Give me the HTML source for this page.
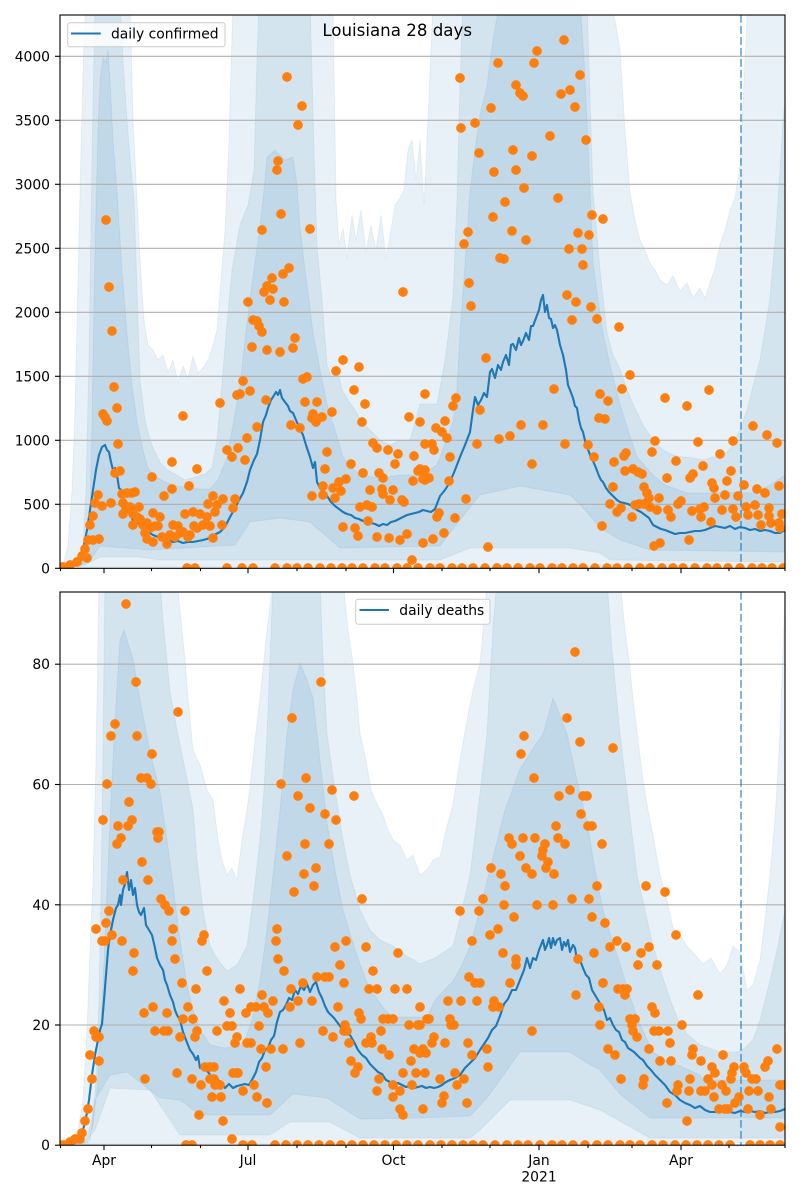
<!DOCTYPE html>
<html><head><meta charset="utf-8"><style>
html,body{margin:0;padding:0;background:#fff;}
svg{display:block;}
text{font-family:"DejaVu Sans","Liberation Sans",sans-serif;fill:#000;}
</style></head><body>
<svg width="800" height="1200" viewBox="0 0 800 1200" xmlns="http://www.w3.org/2000/svg">
<defs>
<clipPath id="ct"><rect x="60" y="15" width="725" height="553.3"/></clipPath>
<clipPath id="cb"><rect x="60" y="592" width="725" height="553.2"/></clipPath>
</defs>
<rect width="800" height="1200" fill="#fff"/>

<!-- TOP PANEL -->
<g clip-path="url(#ct)">
<g fill="#1f77b4" fill-opacity="0.1" stroke="#1f77b4" stroke-opacity="0.08" stroke-width="1">
<polygon points="60,568 64,562 68,545 72,490 75,410 78,280 81,150 84,40 86,0 130,0 133,120 137,200 140,260 144,320 148,345 153,350 158,360 163,355 168,372 173,360 178,382 183,366 188,378 193,356 198,373 203,368 208,360 213,345 217,330 221,280 225,230 229,140 233,0 333,0 336,200 339,245 343,228 347,258 352,215 356,240 361,210 366,252 371,225 376,250 381,215 386,258 391,230 395,205 400,198 404,190 408,150 412,140 416,180 420,140 424,205 428,120 433,0 610,0 615,20 620,50 625,130 630,192 635,220 640,240 645,250 650,263 655,270 660,280 667,285 673,276 680,291 687,283 693,298 700,288 705,298 710,283 715,268 720,245 725,230 730,210 735,198 740,165 745,60 748,0 785,0 785,567 60,567"/>
<polygon points="60,568 70,566 78,561 83,545 86,490 89,360 92,160 95,0 120,0 123,60 127,120 131,170 134,200 137,290 140,380 145,420 150,440 155,452 160,462 167,470 175,474 185,480 195,477 205,474 212,468 217,440 221,395 226,335 232,270 240,225 248,205 254,170 257,60 259,0 310,0 314,150 317,245 322,300 327,365 332,378 337,368 342,390 348,400 355,410 362,422 370,430 380,440 390,445 400,440 410,440 420,404 430,404 437,404 445,360 453,298 457,200 460,86 463,0 587,0 590,100 593,192 600,270 607,333 613,355 620,369 627,390 633,404 643,425 653,440 663,450 673,455 683,457 693,458 703,460 713,457 720,457 727,452 733,445 740,430 747,410 753,386 760,360 765,330 770,298 776,230 780,170 783,121 785,100 785,562 610,560 600,553 570,548 470,548 440,560 160,560 140,557 100,557 85,565 60,568"/>
<polygon points="60,568 80,565 86,555 90,520 92,420 95,250 98,130 100,80 103,57 106,62 108,50 110,80 113,140 117,192 122,270 127,333 132,385 137,422 143,450 148,468 153,475 165,482 177,486 190,488 200,489 210,489 218,480 227,457 233,425 240,386 245,340 250,298 255,262 260,227 264,190 267,157 275,150 285,160 293,157 297,185 300,227 305,270 309,300 313,333 320,370 327,404 335,430 343,457 352,468 360,475 380,478 400,475 420,475 437,465 453,422 457,390 460,333 465,265 470,192 475,150 480,115 487,86 493,40 500,0 580,0 584,60 587,121 590,190 593,263 598,300 603,333 610,365 620,404 628,430 637,457 645,466 653,475 665,485 687,493 710,493 730,492 753,493 770,485 785,475 785,552 650,550 620,540 600,528 585,510 570,495 520,486 480,495 460,520 440,546 340,548 310,522 280,518 250,522 235,545 150,550 100,546 90,560 80,566 60,568"/>
</g>
<g stroke="#b0b0b0" stroke-width="1.1">
<line x1="60" x2="785" y1="56.3" y2="56.3"/><line x1="60" x2="785" y1="120.3" y2="120.3"/><line x1="60" x2="785" y1="184.3" y2="184.3"/><line x1="60" x2="785" y1="248.3" y2="248.3"/><line x1="60" x2="785" y1="312.3" y2="312.3"/><line x1="60" x2="785" y1="376.3" y2="376.3"/><line x1="60" x2="785" y1="440.3" y2="440.3"/><line x1="60" x2="785" y1="504.3" y2="504.3"/>
</g>
<line x1="741" x2="741" y1="15" y2="568" stroke="#1f77b4" stroke-opacity="0.55" stroke-width="2" stroke-dasharray="7.7,3.3"/>
<polyline fill="none" stroke="#1f77b4" stroke-width="2.1" stroke-linejoin="round" points="60,568 64,568 68,567 72,565 76,562 80,556 84,545 87,530 90,510 93,490 96,470 99,455 102,447 105,445 107,450 109,452 111,462 113,470 115,468 117,475 119,488 121,490 124,500 127,510 130,514 133,520 137,522 140,525 144,528 148,532 153,535 158,537 163,539 168,540 173,542 178,541 183,543 188,542 193,542 198,541 203,540 207,539 212,536 216,534 220,532 225,527 230,517 234,510 238,502 243,493 247,482 250,470 254,460 257,454 260,440 263,422 266,415 268,408 271,400 273,397 276,392 278,395 280,390 282,398 285,402 288,406 290,411 293,413 296,420 300,429 303,435 306,445 310,457 313,468 315,462 317,482 320,488 323,492 327,496 331,502 335,506 339,509 343,512 347,514 351,515 355,518 359,519 363,521 367,521 371,523 375,524 379,526 383,524 387,525 391,522 395,521 399,519 403,517 407,515 411,514 415,513 419,512 423,510 427,511 431,512 435,509 440,496 445,490 450,482 455,470 460,457 465,445 470,432 473,410 475,397 478,405 481,400 484,393 487,397 490,372 492,369 495,378 498,365 501,370 503,362 506,355 509,365 511,345 513,344 516,350 519,338 521,345 523,341 526,333 529,340 531,326 533,326 536,318 539,310 541,300 543,295 545,312 547,305 549,318 551,319 553,328 555,325 557,330 560,345 563,355 566,370 568,385 570,390 573,398 575,406 577,408 579,420 581,428 583,432 586,445 589,452 591,458 593,461 596,468 599,476 601,480 603,482 606,488 609,492 613,496 617,500 620,502 624,503 628,504 632,506 637,510 641,512 645,515 649,518 653,525 657,527 661,529 665,530 670,532 675,534 680,533 685,533 690,532 695,531 700,531 705,530 710,528 715,526 720,527 725,528 730,526 735,529 740,527 745,528 750,530 755,529 760,531 765,530 770,531 775,533 780,533 785,530"/>
<path fill="none" stroke="#ff7f0e" stroke-width="9.7" stroke-linecap="round" d="M106,220h.01M109,287h.01M112,331h.01M114,387h.01M103,414h.01M105,417h.01M107,421h.01M117,408h.01M118,444h.01M115,473h.01M120,471h.01M98,495h.01M95,503h.01M102,506h.01M93,516h.01M90,525h.01M111,503h.01M88,540h.01M93,540h.01M99,539h.01M85,549h.01M82,556h.01M87,558h.01M77,562h.01M70,565h.01M63,567h.01M122,494h.01M127,493h.01M132,493h.01M135,492h.01M123,503h.01M126,509h.01M130,507h.01M139,507h.01M123,514h.01M133,514h.01M137,517h.01M140,519h.01M133,525h.01M143,525h.01M147,523h.01M153,513h.01M160,517h.01M150,528h.01M155,526h.01M158,526h.01M145,533h.01M147,539h.01M153,542h.01M162,537h.01M167,544h.01M164,496h.01M172,489h.01M172,462h.01M152,477h.01M183,416h.01M173,525h.01M178,526h.01M183,532h.01M188,537h.01M180,533h.01M170,535h.01M175,537h.01M189,486h.01M197,469h.01M185,514h.01M193,512h.01M200,514h.01M203,525h.01M207,517h.01M210,526h.01M208,504h.01M213,496h.01M217,505h.01M215,512h.01M223,499h.01M222,525h.01M213,538h.01M194,526h.01M190,535h.01M197,528h.01M220,403h.01M227,450h.01M232,457h.01M238,448h.01M245,460h.01M247,438h.01M257,427h.01M233,508h.01M235,499h.01M237,395h.01M240,394h.01M243,381h.01M250,391h.01M248,302h.01M253,320h.01M257,321h.01M259,326h.01M262,332h.01M252,347h.01M267,350h.01M280,352h.01M262,230h.01M266,400h.01M264,292h.01M267,286h.01M272,278h.01M273,289h.01M270,300h.01M284,302h.01M283,274h.01M289,268h.01M281,214h.01M277,170h.01M278,161h.01M287,77h.01M298,125h.01M302,106h.01M310,229h.01M291,425h.01M300,428h.01M295,338h.01M293,348h.01M303,379h.01M307,377h.01M305,402h.01M317,402h.01M312,418h.01M316,422h.01M322,417h.01M313,414h.01M332,412h.01M327,452h.01M325,469h.01M312,496h.01M323,486h.01M323,495h.01M333,488h.01M339,482h.01M346,479h.01M335,498h.01M341,491h.01M336,371h.01M343,360h.01M359,367h.01M354,390h.01M365,404h.01M362,422h.01M373,443h.01M377,448h.01M388,450h.01M398,454h.01M395,464h.01M414,456h.01M425,444h.01M351,464h.01M363,473h.01M379,473h.01M383,478h.01M370,490h.01M382,489h.01M393,490h.01M383,494h.01M390,500h.01M402,500h.01M404,502h.01M413,481h.01M418,471h.01M423,479h.01M360,507h.01M367,505h.01M372,507h.01M368,521h.01M343,527h.01M355,528h.01M358,536h.01M377,537h.01M389,538h.01M400,540h.01M407,534h.01M423,543h.01M412,560h.01M403,292h.01M425,394h.01M409,417h.01M420,422h.01M564,40h.01M537,51h.01M534,63h.01M498,63h.01M460,78h.01M516,85h.01M520,93h.01M523,96h.01M561,94h.01M570,90h.01M580,75h.01M575,107h.01M491,108h.01M461,128h.01M475,123h.01M550,136h.01M586,140h.01M479,153h.01M513,150h.01M532,156h.01M494,172h.01M516,170h.01M524,188h.01M558,198h.01M505,202h.01M493,217h.01M592,215h.01M603,219h.01M468,232h.01M464,244h.01M512,231h.01M526,240h.01M578,233h.01M589,235h.01M569,249h.01M582,249h.01M583,265h.01M500,258h.01M504,259h.01M469,283h.01M471,306h.01M567,295h.01M576,302h.01M591,307h.01M572,320h.01M597,319h.01M619,327h.01M486,358h.01M630,375h.01M622,389h.01M554,389h.01M456,398h.01M453,406h.01M480,410h.01M600,394h.01M608,401h.01M665,398h.01M687,406h.01M709,390h.01M599,418h.01M605,419h.01M445,421h.01M436,428h.01M442,432h.01M447,438h.01M521,425h.01M543,425h.01M510,436h.01M499,439h.01M477,444h.01M753,426h.01M767,435h.01M777,443h.01M432,444h.01M434,450h.01M450,457h.01M565,444h.01M588,445h.01M594,457h.01M655,441h.01M652,452h.01M698,442h.01M733,441h.01M720,454h.01M626,453h.01M624,456h.01M614,462h.01M676,461h.01M703,466h.01M532,464h.01M420,469h.01M425,470h.01M429,478h.01M425,480h.01M449,481h.01M466,499h.01M625,471h.01M633,469h.01M638,472h.01M642,474h.01M667,478h.01M693,474h.01M690,478h.01M731,471h.01M727,481h.01M613,487h.01M644,487h.01M647,493h.01M649,498h.01M659,498h.01M712,483h.01M714,488h.01M744,485h.01M757,489h.01M765,493h.01M779,486h.01M725,495h.01M715,498h.01M738,496h.01M610,504h.01M621,508h.01M617,512h.01M635,505h.01M639,504h.01M644,504h.01M650,507h.01M632,517h.01M657,510h.01M668,510h.01M671,517h.01M678,504h.01M681,501h.01M692,511h.01M700,509h.01M704,507h.01M701,517h.01M722,510h.01M733,509h.01M736,517h.01M746,507h.01M755,505h.01M748,515h.01M758,515h.01M769,508h.01M769,516h.01M761,525h.01M771,523h.01M779,523h.01M782,514h.01M780,528h.01M711,522h.01M439,513h.01M437,517h.01M455,518h.01M444,533h.01M433,539h.01M423,543h.01M602,526h.01M488,547h.01M654,546h.01M660,543h.01M689,540h.01M187,568h.01M195,568h.01M227,568h.01M242,568h.01M253,568h.01M275,568h.01M287,568h.01M297,568h.01M308,568h.01M320,568h.01M331,568h.01M342,568h.01M352,568h.01M363,568h.01M375,568h.01M385,568h.01M397,568h.01M407,568h.01M418,568h.01M430,568h.01M440,568h.01M452,568h.01M462,568h.01M473,568h.01M485,568h.01M497,568h.01M507,568h.01M518,568h.01M530,568h.01M540,568h.01M552,568h.01M562,568h.01M573,568h.01M583,568h.01M595,568h.01M607,568h.01M617,568h.01M628,568h.01M640,568h.01M650,568h.01M662,568h.01M673,568h.01M683,568h.01M695,568h.01M707,568h.01M717,568h.01M728,568h.01M740,568h.01M752,568h.01M762,568h.01M772,568h.01M783,568h.01M60,568h.01M66,568h.01"/>
</g>
<text x="397.2" y="36" font-size="16.67" text-anchor="middle">Louisiana 28 days</text>
<rect x="67.7" y="22.7" width="157.3" height="24" rx="2.5" fill="#fff" fill-opacity="0.8" stroke="#cccccc" stroke-width="1"/>
<line x1="71" x2="100.7" y1="33.5" y2="33.5" stroke="#1f77b4" stroke-width="2.1"/>
<text x="111" y="38.3" font-size="13.89">daily confirmed</text>
<rect x="60" y="15" width="725" height="553.3" fill="none" stroke="#000" stroke-width="1.1"/>
<g font-size="13.89" text-anchor="end">
<text x="50" y="61.3">4000</text><text x="50" y="125.3">3500</text><text x="50" y="189.3">3000</text><text x="50" y="253.3">2500</text><text x="50" y="317.3">2000</text><text x="50" y="381.3">1500</text><text x="50" y="445.3">1000</text><text x="50" y="509.3">500</text><text x="50" y="573.3">0</text>
</g>
<g stroke="#000" stroke-width="1.1">
<line x1="55" x2="60" y1="56.3" y2="56.3"/><line x1="55" x2="60" y1="120.3" y2="120.3"/><line x1="55" x2="60" y1="184.3" y2="184.3"/><line x1="55" x2="60" y1="248.3" y2="248.3"/><line x1="55" x2="60" y1="312.3" y2="312.3"/><line x1="55" x2="60" y1="376.3" y2="376.3"/><line x1="55" x2="60" y1="440.3" y2="440.3"/><line x1="55" x2="60" y1="504.3" y2="504.3"/><line x1="55" x2="60" y1="568.3" y2="568.3"/>
<line x1="104" x2="104" y1="568.3" y2="573.2"/><line x1="248" x2="248" y1="568.3" y2="573.2"/><line x1="393.5" x2="393.5" y1="568.3" y2="573.2"/><line x1="539" x2="539" y1="568.3" y2="573.2"/><line x1="681" x2="681" y1="568.3" y2="573.2"/>
<line x1="60.5" x2="60.5" y1="568.3" y2="571.1"/><line x1="151.5" x2="151.5" y1="568.3" y2="571.1"/><line x1="200.5" x2="200.5" y1="568.3" y2="571.1"/><line x1="297" x2="297" y1="568.3" y2="571.1"/><line x1="346" x2="346" y1="568.3" y2="571.1"/><line x1="442" x2="442" y1="568.3" y2="571.1"/><line x1="490" x2="490" y1="568.3" y2="571.1"/><line x1="588" x2="588" y1="568.3" y2="571.1"/><line x1="632" x2="632" y1="568.3" y2="571.1"/><line x1="729" x2="729" y1="568.3" y2="571.1"/><line x1="785" x2="785" y1="568.3" y2="571.1"/>
</g>

<!-- BOTTOM PANEL -->
<g clip-path="url(#cb)">
<g fill="#1f77b4" fill-opacity="0.1" stroke="#1f77b4" stroke-opacity="0.08" stroke-width="1">
<polygon points="60,1145 70,1142 78,1130 83,1100 87,1030 90,950 93,880 96,760 99,580 177,580 181,620 185,660 188,698 193,750 200,765 207,790 213,800 218,840 222,860 227,875 232,868 237,880 242,840 247,810 250,787 255,740 260,698 266,640 273,580 343,580 348,630 353,663 357,700 360,734 366,760 371,790 377,804 383,815 388,830 393,840 400,845 407,860 413,855 420,875 427,870 433,860 440,857 446,830 453,804 460,760 467,720 473,690 480,663 484,620 487,580 620,580 625,630 629,660 633,698 638,740 643,780 647,804 653,835 660,875 667,900 673,928 680,935 687,946 695,955 703,964 711,958 720,974 727,965 733,946 740,952 747,990 753,985 760,960 765,920 770,875 775,820 780,734 783,650 785,592 785,1143 60,1144"/>
<polygon points="60,1145 85,1143 92,1120 96,1080 99,1000 101,900 103,750 105,580 160,580 163,620 170,692 177,730 183,759 193,809 197,860 203,910 210,946 218,960 227,971 237,965 247,946 253,900 260,840 264,790 267,734 270,660 273,580 320,580 323,660 327,734 335,790 343,840 350,875 360,910 370,930 380,940 393,946 405,955 420,964 435,958 453,946 462,910 470,875 478,810 487,734 490,680 493,627 497,580 607,580 612,650 620,734 628,800 637,875 645,910 653,946 662,975 670,999 678,1020 687,1034 700,1045 720,1052 737,1052 745,1048 753,1040 760,1020 770,981 778,945 785,910 785,1138 650,1138 600,1110 570,1100 510,1100 480,1130 470,1138 360,1138 330,1122 290,1122 270,1135 180,1135 150,1090 110,1088 95,1130 85,1142 60,1145"/>
<polygon points="60,1145 88,1143 93,1125 97,1090 100,1040 104,960 107,892 111,800 115,720 120,640 124,630 127,640 133,659 140,700 150,752 160,792 167,840 173,885 180,940 187,985 193,1010 200,1030 210,1045 225,1048 243,1045 252,1020 260,981 267,930 273,875 280,810 287,734 293,690 300,663 307,680 313,698 320,760 327,822 335,870 343,910 352,940 360,964 368,985 377,999 385,1010 393,1017 410,1017 427,1017 435,1000 453,981 462,965 470,946 480,910 493,857 505,810 520,769 532,750 543,734 553,698 560,715 567,734 577,780 587,822 595,870 603,910 612,940 620,964 628,990 637,1017 645,1035 653,1052 665,1060 680,1066 700,1075 703,1080 785,1080 785,1118 650,1118 620,1094 600,1070 587,1063 570,1052 520,1052 500,1080 487,1098 470,1116 420,1118 360,1119 327,1098 293,1094 270,1115 200,1115 180,1100 160,1098 127,1072 110,1075 95,1100 90,1140 60,1145"/>
</g>
<g stroke="#b0b0b0" stroke-width="1.1">
<line x1="60" x2="785" y1="664.2" y2="664.2"/><line x1="60" x2="785" y1="784.5" y2="784.5"/><line x1="60" x2="785" y1="904.8" y2="904.8"/><line x1="60" x2="785" y1="1025" y2="1025"/>
</g>
<line x1="741" x2="741" y1="592" y2="1145" stroke="#1f77b4" stroke-opacity="0.55" stroke-width="2" stroke-dasharray="7.7,3.3"/>
<polyline fill="none" stroke="#1f77b4" stroke-width="2.1" stroke-linejoin="round" points="60,1145 65,1145 70,1144 75,1143 80,1140 83,1130 86,1118 89,1100 92,1075 95,1055 98,1040 100,1030 102,1024 104,1000 106,975 108,950 110,935 113,920 116,908 118,905 120,895 121,905 123,890 125,884 127,872 129,890 131,880 133,895 135,888 137,905 139,912 141,915 144,908 146,925 149,930 152,935 155,948 157,958 160,965 163,970 165,980 167,985 170,995 173,1002 175,1010 177,1015 180,1020 183,1032 186,1040 188,1045 190,1050 193,1054 196,1060 198,1056 200,1068 204,1068 208,1072 211,1076 214,1080 218,1080 221,1082 225,1088 229,1084 233,1088 237,1086 241,1085 245,1084 249,1085 253,1078 256,1072 259,1062 262,1058 265,1050 268,1048 271,1040 274,1036 277,1022 280,1012 283,1010 286,1005 289,998 292,1000 295,990 298,994 301,986 304,990 307,984 310,992 313,985 316,982 319,992 322,998 325,1006 328,1012 331,1015 334,1018 337,1022 340,1026 343,1030 347,1034 350,1035 354,1042 358,1050 362,1055 366,1058 370,1064 374,1068 378,1072 382,1074 386,1080 390,1082 394,1084 398,1083 402,1085 406,1087 410,1086 414,1088 418,1087 422,1086 426,1088 430,1087 434,1088 438,1087 442,1085 446,1082 450,1080 455,1078 460,1075 465,1068 470,1063 475,1058 480,1050 484,1044 488,1038 492,1030 496,1026 500,1016 504,1004 508,999 512,990 516,990 520,980 524,970 527,958 530,968 533,958 536,960 539,950 541,945 543,940 545,950 547,945 549,938 551,948 553,938 555,945 557,940 560,938 562,950 564,942 566,946 568,940 570,952 573,945 575,948 577,960 580,960 583,968 586,975 589,978 592,990 595,995 598,1000 601,1005 604,1010 607,1020 610,1018 613,1025 616,1030 619,1032 622,1040 625,1042 628,1048 631,1050 634,1052 637,1055 640,1058 643,1060 647,1066 651,1070 655,1075 660,1080 665,1085 670,1092 675,1095 680,1100 685,1103 690,1105 695,1108 700,1106 705,1110 710,1112 715,1112 720,1112 725,1111 730,1112 735,1113 740,1111 745,1112 750,1111 755,1112 760,1111 765,1113 770,1112 775,1112 780,1111 785,1109"/>
<path fill="none" stroke="#ff7f0e" stroke-width="9.7" stroke-linecap="round" d="M126,604h.01M136,682h.01M178,712h.01M115,724h.01M111,736h.01M137,736h.01M152,754h.01M107,784h.01M141,778h.01M147,778h.01M151,784h.01M129,802h.01M103,820h.01M132,820h.01M118,826h.01M128,826h.01M121,838h.01M117,844h.01M157,832h.01M159,832h.01M158,838h.01M142,862h.01M148,880h.01M123,880h.01M161,899h.01M165,905h.01M169,911h.01M185,911h.01M109,911h.01M106,923h.01M96,929h.01M112,935h.01M102,941h.01M105,941h.01M122,941h.01M173,929h.01M172,941h.01M175,959h.01M134,953h.01M133,971h.01M204,935h.01M202,941h.01M207,971h.01M182,983h.01M196,989h.01M240,989h.01M144,1013h.01M153,1007h.01M167,1013h.01M188,1007h.01M183,1019h.01M193,1019h.01M155,1031h.01M164,1031h.01M168,1031h.01M180,1037h.01M197,1031h.01M195,1037h.01M94,1031h.01M96,1037h.01M99,1037h.01M224,1001h.01M230,1013h.01M227,1026h.01M232,1026h.01M217,1031h.01M237,1037h.01M235,1043h.01M246,1013h.01M251,1007h.01M256,1007h.01M262,995h.01M264,1007h.01M268,1013h.01M273,1001h.01M259,1026h.01M247,1043h.01M251,1043h.01M261,1049h.01M271,1049h.01M283,1049h.01M90,1055h.01M99,1061h.01M92,1079h.01M145,1079h.01M177,1073h.01M192,1079h.01M201,1085h.01M205,1067h.01M210,1067h.01M214,1067h.01M210,1079h.01M214,1079h.01M215,1085h.01M220,1085h.01M212,1097h.01M221,1097h.01M236,1073h.01M238,1073h.01M233,1073h.01M243,1091h.01M254,1085h.01M266,1067h.01M257,1097h.01M267,1103h.01M199,1115h.01M223,1121h.01M232,1139h.01M88,1109h.01M85,1121h.01M82,1133h.01M80,1139h.01M75,1139h.01M70,1142h.01M64,1145h.01M277,929h.01M276,941h.01M278,959h.01M284,971h.01M281,784h.01M292,718h.01M306,778h.01M298,796h.01M310,808h.01M325,814h.01M336,820h.01M332,790h.01M321,682h.01M287,856h.01M305,844h.01M329,844h.01M304,874h.01M316,868h.01M294,892h.01M314,886h.01M354,796h.01M362,899h.01M335,947h.01M346,941h.01M340,965h.01M344,983h.01M338,1007h.01M366,947h.01M373,971h.01M369,989h.01M377,989h.01M291,989h.01M303,983h.01M317,977h.01M325,977h.01M329,977h.01M312,1001h.01M298,1001h.01M290,1007h.01M323,1031h.01M333,1037h.01M300,1043h.01M345,1025h.01M347,1031h.01M344,1031h.01M349,1043h.01M359,1013h.01M361,1019h.01M351,1061h.01M358,1067h.01M355,1073h.01M398,953h.01M395,989h.01M407,989h.01M420,1007h.01M383,1019h.01M388,1019h.01M393,1019h.01M409,1025h.01M418,1025h.01M427,1019h.01M381,1031h.01M366,1043h.01M371,1037h.01M372,1043h.01M382,1049h.01M389,1055h.01M414,1049h.01M423,1049h.01M411,1061h.01M403,1073h.01M416,1073h.01M425,1073h.01M379,1079h.01M377,1091h.01M393,1085h.01M400,1091h.01M412,1085h.01M393,1097h.01M400,1109h.01M403,1115h.01M423,1109h.01M575,652h.01M567,718h.01M524,736h.01M521,754h.01M580,742h.01M613,748h.01M534,778h.01M559,796h.01M570,790h.01M583,796h.01M587,796h.01M581,814h.01M588,826h.01M592,826h.01M556,826h.01M558,838h.01M565,844h.01M602,844h.01M509,838h.01M512,844h.01M523,838h.01M535,838h.01M520,856h.01M545,844h.01M543,850h.01M542,856h.01M548,862h.01M546,868h.01M554,874h.01M532,874h.01M526,868h.01M491,868h.01M501,874h.01M505,886h.01M597,886h.01M646,886h.01M665,892h.01M460,911h.01M479,911h.01M483,899h.01M504,905h.01M514,917h.01M537,905h.01M553,905h.01M572,899h.01M589,899h.01M592,917h.01M605,923h.01M498,929h.01M490,935h.01M472,941h.01M503,953h.01M516,959h.01M516,965h.01M469,977h.01M475,983h.01M480,983h.01M676,935h.01M610,947h.01M617,941h.01M626,947h.01M641,953h.01M649,947h.01M638,965h.01M657,965h.01M594,953h.01M578,959h.01M603,983h.01M510,983h.01M477,1001h.01M461,1001h.01M448,1001h.01M494,1001h.01M493,1007h.01M499,1007h.01M576,995h.01M618,989h.01M623,989h.01M627,989h.01M625,995h.01M698,995h.01M652,1007h.01M655,1013h.01M682,1025h.01M420,1025h.01M429,1019h.01M450,1019h.01M451,1025h.01M454,1025h.01M630,1019h.01M635,1019h.01M632,1025h.01M633,1031h.01M637,1037h.01M600,1025h.01M599,1007h.01M532,1031h.01M434,1037h.01M432,1043h.01M445,1043h.01M654,1031h.01M659,1031h.01M668,1031h.01M670,1043h.01M649,1049h.01M660,1061h.01M671,1061h.01M468,1043h.01M472,1055h.01M487,1049h.01M488,1067h.01M608,1049h.01M615,1055h.01M693,1049h.01M692,1055h.01M701,1061h.01M723,1055h.01M777,1049h.01M768,1061h.01M765,1067h.01M712,1067h.01M715,1073h.01M734,1067h.01M732,1073h.01M744,1067h.01M746,1073h.01M752,1079h.01M756,1079h.01M731,1079h.01M708,1079h.01M712,1085h.01M690,1079h.01M678,1085h.01M677,1091h.01M689,1091h.01M701,1091h.01M705,1091h.01M722,1085h.01M726,1091h.01M749,1091h.01M758,1091h.01M769,1097h.01M780,1085h.01M783,1085h.01M714,1097h.01M739,1097h.01M735,1103h.01M725,1109h.01M719,1109h.01M728,1109h.01M748,1109h.01M760,1115h.01M771,1109h.01M667,1103h.01M687,1121h.01M780,1127h.01M426,1053h.01M420,1053h.01M425,1073h.01M423,1109h.01M440,1079h.01M444,1096h.01M442,1103h.01M455,1073h.01M457,1085h.01M464,1079h.01M467,1103h.01M621,1079h.01M644,1079h.01M643,1085h.01M186,1145h.01M192,1145h.01M243,1145h.01M252,1145h.01M275,1145h.01M286,1145h.01M297,1145h.01M308,1145h.01M319,1145h.01M330,1145h.01M341,1145h.01M352,1145h.01M363,1145h.01M374,1145h.01M385,1145h.01M396,1145h.01M407,1145h.01M418,1145h.01M430,1145h.01M441,1145h.01M452,1145h.01M463,1145h.01M473,1145h.01M483,1145h.01M495,1145h.01M507,1145h.01M518,1145h.01M528,1145h.01M540,1145h.01M552,1145h.01M562,1145h.01M573,1145h.01M585,1145h.01M597,1145h.01M608,1145h.01M620,1145h.01M630,1145h.01M640,1145h.01M652,1145h.01M663,1145h.01M675,1145h.01M686,1145h.01M697,1145h.01M708,1145h.01M719,1145h.01M730,1145h.01M750,1145h.01M760,1145h.01M770,1145h.01M780,1145h.01M60,1145h.01"/>
</g>
<rect x="355.7" y="599.3" width="134.3" height="25" rx="2.5" fill="#fff" fill-opacity="0.8" stroke="#cccccc" stroke-width="1"/>
<line x1="359.5" x2="389" y1="610" y2="610" stroke="#1f77b4" stroke-width="2.1"/>
<text x="399.3" y="615" font-size="13.89">daily deaths</text>
<rect x="60" y="592" width="725" height="553.2" fill="none" stroke="#000" stroke-width="1.1"/>
<g font-size="13.89" text-anchor="end">
<text x="50" y="669.2">80</text><text x="50" y="789.5">60</text><text x="50" y="909.8">40</text><text x="50" y="1030">20</text><text x="50" y="1150.2">0</text>
</g>
<g stroke="#000" stroke-width="1.1">
<line x1="55" x2="60" y1="664.2" y2="664.2"/><line x1="55" x2="60" y1="784.5" y2="784.5"/><line x1="55" x2="60" y1="904.8" y2="904.8"/><line x1="55" x2="60" y1="1025" y2="1025"/><line x1="55" x2="60" y1="1145.2" y2="1145.2"/>
<line x1="104" x2="104" y1="1145.2" y2="1150.1"/><line x1="248" x2="248" y1="1145.2" y2="1150.1"/><line x1="393.5" x2="393.5" y1="1145.2" y2="1150.1"/><line x1="539" x2="539" y1="1145.2" y2="1150.1"/><line x1="681" x2="681" y1="1145.2" y2="1150.1"/>
<line x1="60.5" x2="60.5" y1="1145.2" y2="1148"/><line x1="151.5" x2="151.5" y1="1145.2" y2="1148"/><line x1="200.5" x2="200.5" y1="1145.2" y2="1148"/><line x1="297" x2="297" y1="1145.2" y2="1148"/><line x1="346" x2="346" y1="1145.2" y2="1148"/><line x1="442" x2="442" y1="1145.2" y2="1148"/><line x1="490" x2="490" y1="1145.2" y2="1148"/><line x1="588" x2="588" y1="1145.2" y2="1148"/><line x1="632" x2="632" y1="1145.2" y2="1148"/><line x1="729" x2="729" y1="1145.2" y2="1148"/><line x1="785" x2="785" y1="1145.2" y2="1148"/>
</g>
<g font-size="13.89" text-anchor="middle">
<text x="104" y="1165">Apr</text><text x="248" y="1165">Jul</text><text x="393.5" y="1165">Oct</text><text x="539" y="1165">Jan</text><text x="539" y="1181.5">2021</text><text x="681" y="1165">Apr</text>
</g>
</svg>
</body></html>
